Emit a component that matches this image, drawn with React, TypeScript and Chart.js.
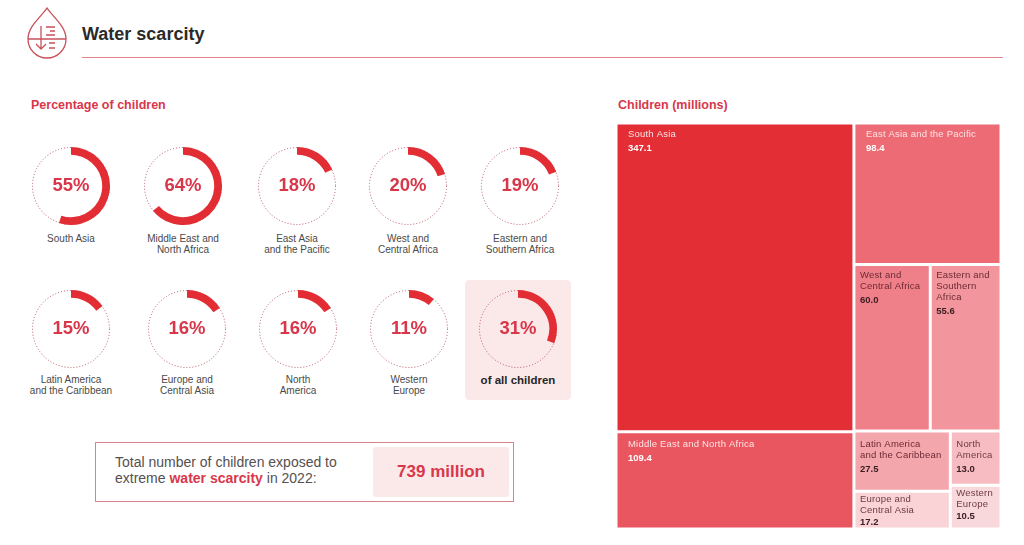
import React, { useEffect, useRef } from "react";
import { Chart, DatasetController, registerables } from "chart.js";

Chart.register(...registerables);

const RED = "#e32d35";
const RED_TEXT = "#d8374a";
const PINK = "#fbe9ea";

// ---- Percentage of children ----
const regionCaptions = [
  ["South Asia"],
  ["Middle East and", "North Africa"],
  ["East Asia", "and the Pacific"],
  ["West and", "Central Africa"],
  ["Eastern and", "Southern Africa"],
  ["Latin America", "and the Caribbean"],
  ["Europe and", "Central Asia"],
  ["North", "America"],
  ["Western", "Europe"],
  ["of all children"],
];
const regionPercentages = [55, 64, 18, 20, 19, 15, 16, 16, 11, 31];
const ringCentresX = [71, 183, 297, 408, 520, 71, 187, 298, 409, 518];
const ringCentresY = [186, 186, 186, 186, 186, 329, 329, 329, 329, 329];

// ---- Children (millions) ----
const cellNames = [
  ["South Asia"],
  ["East Asia and the Pacific"],
  ["West and", "Central Africa"],
  ["Eastern and", "Southern", "Africa"],
  ["Middle East and North Africa"],
  ["Latin America", "and the Caribbean"],
  ["North", "America"],
  ["Europe and", "Central Asia"],
  ["Western", "Europe"],
];
const cellValues = [347.1, 98.4, 60.0, 55.6, 109.4, 27.5, 13.0, 17.2, 10.5];
const cellColours = ["#e42e36", "#ec6b74", "#ef7f88", "#f2959c", "#ea5660", "#f4a6ad", "#f6bcc1", "#f9d3d6", "#f9d8db"];
const cellNameColours = ["#fde4e5", "#fce3e5", "#6d2a33", "#6d2a33", "#fde4e5", "#6d2a33", "#6d3a42", "#6d3a42", "#6d3a42"];
const cellValueColours = ["#ffffff", "#ffffff", "#3c2024", "#3c2024", "#ffffff", "#3c2024", "#3c2024", "#3c2024", "#3c2024"];

// Nesting of the treemap: "h" splits across, "v" splits down
type Node = number | [string, ...Node[]];
const treeShape: Node = [
  "h",
  ["v", 0, 4],
  ["v", 1, ["h", 2, 3], ["h", ["v", 5, 7], ["v", 6, 8]]],
];

const nodeTotal = (n: Node): number =>
  typeof n === "number" ? cellValues[n] : (n.slice(1) as Node[]).reduce((s, c) => s + nodeTotal(c), 0);

function layoutTree(n: Node, x0: number, x1: number, y0: number, y1: number, out: any[]) {
  if (typeof n === "number") {
    out[n] = { x0, x1, y0, y1, x: (x0 + x1) / 2, y: (y0 + y1) / 2 };
    return;
  }
  const total = nodeTotal(n);
  let cursor = n[0] === "h" ? x0 : y0;
  (n.slice(1) as Node[]).forEach((c) => {
    const f = nodeTotal(c) / total;
    if (n[0] === "h") {
      const w = (x1 - x0) * f;
      layoutTree(c, cursor, cursor + w, y0, y1, out);
      cursor += w;
    } else {
      const h = (y1 - y0) * f;
      layoutTree(c, x0, x1, cursor, cursor + h, out);
      cursor += h;
    }
  });
}

class TreemapController extends (DatasetController as any) {
  static id = "treemap";
  static defaults = { dataElementType: "bar", datasetElementType: false };
  update(mode: any) {
    const meta = (this as any)._cachedMeta;
    (this as any).updateElements(meta.data, 0, meta.data.length, mode);
  }
  updateElements(rects: any[], start: number, count: number, mode: any) {
    const self = this as any;
    const { xScale, yScale } = self._cachedMeta;
    const data = self.getDataset().data;
    for (let i = start; i < start + count; i++) {
      const d = data[i];
      const left = xScale.getPixelForValue(d.x0);
      const right = xScale.getPixelForValue(d.x1);
      const top = yScale.getPixelForValue(d.y0);
      const bottom = yScale.getPixelForValue(d.y1);
      self.updateElement(
        rects[i],
        i,
        {
          x: (left + right) / 2,
          y: top,
          base: bottom,
          width: right - left,
          height: bottom - top,
          horizontal: false,
          inflateAmount: 0,
          enableBorderRadius: false,
          borderSkipped: { top: false, bottom: false, left: false, right: false },
          options: self.resolveDataElementOptions(i, mode),
        },
        mode
      );
    }
  }
}
Chart.register(TreemapController as any);

const cellLabelsPlugin = {
  id: "cellLabels",
  afterDatasetsDraw(chart: any) {
    const { ctx } = chart;
    chart.getDatasetMeta(0).data.forEach((el: any, i: number) => {
      const left = el.x - el.width / 2;
      const top = el.y;
      const tx = left + (el.width > 100 ? 12 : 6);
      let ty = top + (el.height < 45 ? 8 : el.height > 130 ? 11 : 13);
      ctx.save();
      ctx.textBaseline = "middle";
      ctx.font = '9.5px "Liberation Sans"';
      (ctx as any).letterSpacing = "0.2px";
      ctx.fillStyle = cellNameColours[i];
      cellNames[i].forEach((line, k) => {
        ctx.fillText(line, tx, ty);
        if (k < cellNames[i].length - 1) ty += 11;
      });
      ctx.font = 'bold 9.5px "Liberation Sans"';
      (ctx as any).letterSpacing = "0px";
      ctx.fillStyle = cellValueColours[i];
      ctx.fillText(cellValues[i].toFixed(1), tx, ty + (el.height < 45 ? 12 : 14));
      ctx.restore();
    });
  },
};

function Treemap() {
  const ref = useRef<HTMLCanvasElement>(null);
  useEffect(() => {
    const total = nodeTotal(treeShape);
    const cells: any[] = [];
    layoutTree(treeShape, 0, total, 0, total, cells);
    const chart = new Chart(ref.current as any, {
      type: "treemap" as any,
      data: {
        labels: cellNames.map((n) => n.join(" ")),
        datasets: [
          {
            data: cells,
            backgroundColor: cellColours,
            borderColor: "#ffffff",
            borderWidth: 1.5,
            parsing: false,
            normalized: true,
          } as any,
        ],
      },
      options: {
        responsive: false,
        animation: false,
        events: [],
        layout: { padding: 0 },
        plugins: { legend: { display: false }, tooltip: { enabled: false } },
        scales: {
          x: { type: "linear", display: false, min: 0, max: total },
          y: { type: "linear", display: false, min: 0, max: total, reverse: true },
        },
      } as any,
      plugins: [cellLabelsPlugin],
    });
    return () => chart.destroy();
  }, []);
  return (
    <canvas
      ref={ref}
      width={385}
      height={406}
      style={{ position: "absolute", left: 616, top: 123, width: 385, height: 406 }}
    />
  );
}

const ringPlugin = {
  id: "ringDetails",
  beforeDatasetsDraw(chart: any) {
    const arc = chart.getDatasetMeta(0).data[0];
    const { ctx } = chart;
    ctx.save();
    ctx.beginPath();
    ctx.setLineDash([1, 2]);
    ctx.lineWidth = 1;
    ctx.strokeStyle = "#b5555f";
    ctx.arc(arc.x, arc.y, arc.outerRadius - 0.5, 0, Math.PI * 2);
    ctx.stroke();
    ctx.restore();
  },
  afterDatasetsDraw(chart: any) {
    const arc = chart.getDatasetMeta(0).data[0];
    const { ctx } = chart;
    ctx.save();
    ctx.font = 'bold 18.5px "Liberation Sans"';
    ctx.fillStyle = RED_TEXT;
    ctx.textAlign = "center";
    ctx.textBaseline = "middle";
    ctx.fillText(`${chart.data.datasets[0].data[0]}%`, arc.x, arc.y);
    ctx.restore();
  },
};

function Ring({ index }: { index: number }) {
  const ref = useRef<HTMLCanvasElement>(null);
  const size = 80;
  useEffect(() => {
    const value = regionPercentages[index];
    const chart = new Chart(ref.current as any, {
      type: "doughnut",
      data: {
        labels: [regionCaptions[index].join(" "), "Other children"],
        datasets: [
          {
            data: [value, 100 - value],
            backgroundColor: [RED, "rgba(0,0,0,0)"],
            borderWidth: 0,
          },
        ],
      },
      options: {
        responsive: false,
        animation: false,
        events: [],
        cutout: "80%",
        layout: { padding: 1 },
        plugins: { legend: { display: false }, tooltip: { enabled: false } },
      } as any,
      plugins: [ringPlugin],
    });
    return () => chart.destroy();
  }, [index]);
  return (
    <canvas
      ref={ref}
      width={size}
      height={size}
      style={{
        position: "absolute",
        left: ringCentresX[index] - size / 2,
        top: ringCentresY[index] - size / 2,
        width: size,
        height: size,
      }}
    />
  );
}

function Caption({ index }: { index: number }) {
  const last = index === regionCaptions.length - 1;
  const top = index < 5 ? 233 : 374;
  return (
    <div
      style={{
        position: "absolute",
        left: ringCentresX[index] - 60,
        top,
        width: 120,
        textAlign: "center",
        fontSize: last ? 11.5 : 10,
        lineHeight: "11px",
        fontWeight: last ? 700 : 400,
        color: last ? "#262626" : "#4a4a4a",
        marginTop: last ? 1 : 0,
      }}
    >
      {regionCaptions[index].map((l) => (
        <div key={l}>{l}</div>
      ))}
    </div>
  );
}

const abs = (left: number, top: number, extra: React.CSSProperties = {}): React.CSSProperties => ({
  position: "absolute",
  left,
  top,
  whiteSpace: "nowrap",
  ...extra,
});

function DropIcon() {
  const c = "#c9505a";
  return (
    <svg
      width={60}
      height={70}
      viewBox="20 0 60 70"
      style={{ position: "absolute", left: 20, top: 0 }}
      fill="none"
      stroke={c}
      strokeWidth={1.3}
    >
      <path d="M47 8 C42 16 28 26 28 39 A19 19 0 0 0 66 39 C66 26 52 16 47 8 Z" />
      <path d="M28 39 H66" />
      <path d="M41 26 V49 M36 44 L41 49 L46 44" />
      <path d="M46 27 H55 M50 31 H55 M46 35 H55 M49 43 H55 M49 48 H55" />
    </svg>
  );
}

export default function App() {
  return (
    <div
      style={{
        position: "absolute",
        left: 0,
        top: 0,
        width: 1024,
        height: 545,
        overflow: "hidden",
        background: "#ffffff",
        fontFamily: '"Liberation Sans", Arial, sans-serif',
      }}
    >
      <DropIcon />
      <div style={abs(82, 23, { fontSize: 18, lineHeight: "22px", fontWeight: 700, color: "#2b2a2a" })}>Water scarcity</div>
      <div style={{ position: "absolute", left: 82, top: 57, width: 921, height: 1, background: "#e5828a" }} />
      <div style={abs(31, 98, { fontSize: 12.5, lineHeight: "15px", fontWeight: 700, color: RED_TEXT })}>Percentage of children</div>
      <div style={abs(618, 98, { fontSize: 12.5, lineHeight: "15px", fontWeight: 700, color: RED_TEXT })}>Children (millions)</div>

      <div style={{ position: "absolute", left: 465, top: 280, width: 106, height: 120, background: PINK, borderRadius: 4 }} />
      {regionPercentages.map((_, i) => (
        <Ring key={i} index={i} />
      ))}
      {regionPercentages.map((_, i) => (
        <Caption key={i} index={i} />
      ))}

      <div
        style={{
          position: "absolute",
          left: 95,
          top: 442,
          width: 417,
          height: 58,
          border: "1px solid #d9848c",
        }}
      />
      <div style={abs(115, 454, { fontSize: 14, lineHeight: "16px", color: "#55504f" })}>
        Total number of children exposed to
        <br />
        extreme <b style={{ color: RED_TEXT }}>water scarcity</b> in 2022:
      </div>
      <div
        style={{
          position: "absolute",
          left: 373,
          top: 447,
          width: 136,
          height: 50,
          background: PINK,
          borderRadius: 3,
          textAlign: "center",
          lineHeight: "50px",
          fontSize: 17,
          fontWeight: 700,
          color: RED_TEXT,
        }}
      >
        739 million
      </div>

      <Treemap />
    </div>
  );
}
